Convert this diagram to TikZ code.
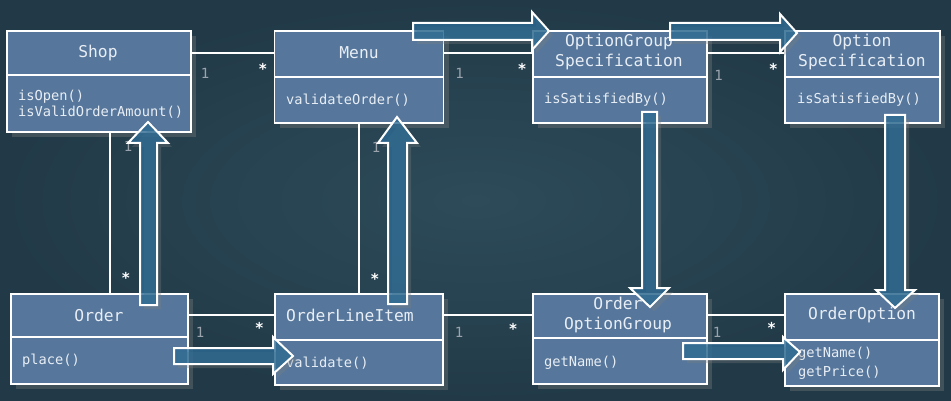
\documentclass[tikz,border=0pt]{standalone}
\usepackage{fontspec}
\setmonofont{DejaVu Sans Mono}
\usetikzlibrary{shadows}

\definecolor{slate}{HTML}{2D4B59}
\definecolor{slatedark}{HTML}{223A48}
\definecolor{boxblue}{HTML}{56769B}
\definecolor{flowblue}{HTML}{2C6A93}
\definecolor{boxtext}{HTML}{E8EEF5}
\definecolor{multgray}{HTML}{9BA4AD}

\tikzset{
  classbox/.style={rectangle, draw=white, line width=1.8pt, fill=boxblue, inner sep=0pt, outer sep=0pt,
    drop shadow={shadow xshift=5pt, shadow yshift=-5pt, opacity=0.35}},
  classname/.style={text=boxtext, font=\ttfamily\fontsize{16.3}{20}\selectfont, align=center, inner sep=0pt},
  methods/.style={text=boxtext, font=\ttfamily\fontsize{13.7}{15.7}\selectfont, align=left, anchor=west, inner sep=0pt},
  divider/.style={draw=white, line width=1.8pt},
  assoc/.style={draw=white, line width=1.8pt},
  one/.style={text=multgray, font=\ttfamily\fontsize{14}{16}\selectfont, inner sep=0pt},
  many/.style={text=white, font=\ttfamily\bfseries\fontsize{15}{16}\selectfont, inner sep=0pt},
  flow/.style={draw=white, line width=2pt, fill=flowblue, fill opacity=0.8,
    drop shadow={shadow xshift=4pt, shadow yshift=-4pt, opacity=0.3}}
}

\begin{document}
\begin{tikzpicture}[x=1pt, y=-1pt]
  \useasboundingbox (0,0) rectangle (951,401);
  \shade[inner color=slate, outer color=slatedark] (0,0) rectangle (951,401);

  % class boxes
  \node[classbox, minimum width=184pt, minimum height=101pt] (shop) at (99,81.5) {};
  \node[classbox, minimum width=169pt, minimum height=92pt] (menu) at (359,77) {};
  \node[classbox, minimum width=174pt, minimum height=92pt] (ogs) at (620,77) {};
  \node[classbox, minimum width=155pt, minimum height=92pt] (os) at (862.5,77) {};
  \node[classbox, minimum width=177pt, minimum height=90pt] (order) at (99.5,339) {};
  \node[classbox, minimum width=168pt, minimum height=91pt] (oli) at (359,339.5) {};
  \node[classbox, minimum width=174pt, minimum height=90pt] (oog) at (620,339) {};
  \node[classbox, minimum width=154pt, minimum height=92pt] (oo) at (862,340) {};

  \draw[divider] (shop.west |- 0,75) -- (shop.east |- 0,75);
  \draw[divider] (menu.west |- 0,77) -- (menu.east |- 0,77);
  \draw[divider] (ogs.west |- 0,77) -- (ogs.east |- 0,77);
  \draw[divider] (os.west |- 0,77) -- (os.east |- 0,77);
  \draw[divider] (order.west |- 0,337) -- (order.east |- 0,337);
  \draw[divider] (oli.west |- 0,340) -- (oli.east |- 0,340);
  \draw[divider] (oog.west |- 0,338) -- (oog.east |- 0,338);
  \draw[divider] (oo.west |- 0,340) -- (oo.east |- 0,340);

  % names
  \node[classname] (shopT) at (98,53) {Shop};
  \node[classname] (menuT) at (359,53) {Menu};
  \node[classname] (ogsT) at (619,52.5) {OptionGroup\\Specification};
  \node[classname] (osT) at (862,52.5) {Option\\Specification};
  \node[classname] (orderT) at (99,315) {Order};
  \node[classname] (oliT) at (350,315) {OrderLineItem};
  \node[classname] (oogT) at (618,315) {Order\\OptionGroup};
  \node[classname] (ooT) at (862,315) {OrderOption};

  % operations
  \node[methods] (shopM) at (18,104) {isOpen()\\isValidOrderAmount()};
  \node[methods] (menuM) at (286,100) {validateOrder()};
  \node[methods] (ogsM) at (544,100) {isSatisfiedBy()};
  \node[methods] (osM) at (797,100) {isSatisfiedBy()};
  \node[methods] (orderM) at (22,361) {place()};
  \node[methods] (oliM) at (286,363) {validate()};
  \node[methods] (oogM) at (544,363) {getName()};
  \node[methods] (ooM) at (798,363) {getName()\\[3.5pt]getPrice()};

  % associations
  \draw[assoc] (shopT -| shop.east) -- node[one, pos=0.17, yshift=-20pt] {1}
    node[many, pos=0.86, yshift=-16pt] {*} (shopT -| menu.west);
  \draw[assoc] (menuT -| menu.east) -- node[one, pos=0.18, yshift=-20pt] {1}
    node[many, pos=0.88, yshift=-16pt] {*} (menuT -| ogs.west);
  \draw[assoc] (menuT -| ogs.east) -- node[one, pos=0.15, yshift=-22pt] {1}
    node[many, pos=0.85, yshift=-16pt] {*} (menuT -| os.west);
  \draw[assoc] ([xshift=11pt]shop.south) -- node[one, pos=0.09, xshift=18pt] {1}
    node[many, pos=0.9, xshift=16pt] {*} ([xshift=11pt]shop.south |- order.north);
  \draw[assoc] (menu.south) -- node[one, pos=0.14, xshift=17pt] {1}
    node[many, pos=0.91, xshift=16pt] {*} (menu.south |- oli.north);
  \draw[assoc] (orderT -| order.east) -- node[one, pos=0.14, yshift=-17pt] {1}
    node[many, pos=0.82, yshift=-13pt] {*} (orderT -| oli.west);
  \draw[assoc] (orderT -| oli.east) -- node[one, pos=0.18, yshift=-17pt] {1}
    node[many, pos=0.78, yshift=-14pt] {*} (orderT -| oog.west);
  \draw[assoc] (orderT -| oog.east) -- node[one, pos=0.13, yshift=-17pt] {1}
    node[many, pos=0.83, yshift=-13pt] {*} (orderT -| oo.west);

  % flow of the validation
  \draw[flow] (140,305) -- (140,143) -- (128,143) -- (148,122) -- (168,143) -- (157,143) -- (157,305) -- cycle;
  \draw[flow] (388,304) -- (388,143) -- (378,143) -- (397,117) -- (417,143) -- (407,143) -- (407,304) -- cycle;
  \draw[flow] (413,23) -- (532,23) -- (532,12) -- (549,31) -- (532,50) -- (532,40) -- (413,40) -- cycle;
  \draw[flow] (670,23) -- (780,23) -- (780,14) -- (797,33) -- (780,52) -- (780,40) -- (670,40) -- cycle;
  \draw[flow] (642,112) -- (642,288) -- (630,288) -- (650,307) -- (669,288) -- (657,288) -- (657,112) -- cycle;
  \draw[flow] (885,115) -- (885,290) -- (876,290) -- (895,308) -- (915,290) -- (905,290) -- (905,115) -- cycle;
  \draw[flow] (174,348) -- (273,348) -- (273,337) -- (293,356) -- (273,374) -- (273,364) -- (174,364) -- cycle;
  \draw[flow] (683,343) -- (783,343) -- (783,337) -- (800,352) -- (783,370) -- (783,359) -- (683,359) -- cycle;
\end{tikzpicture}
\end{document}
